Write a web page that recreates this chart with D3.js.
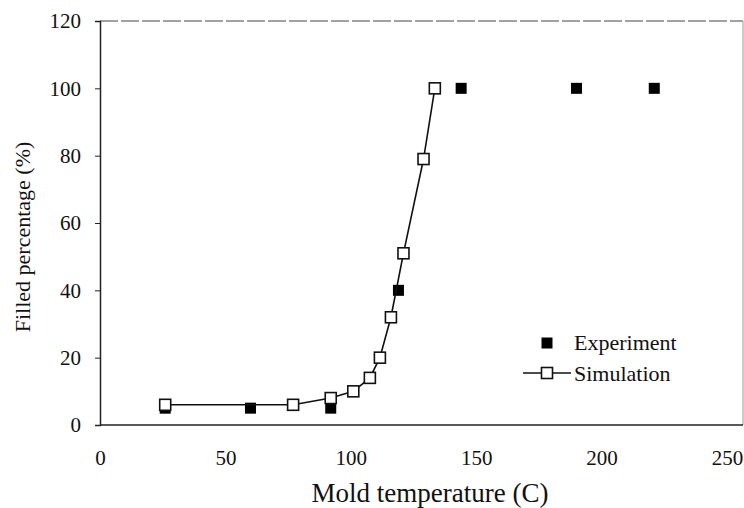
<!DOCTYPE html>
<html>
<head>
<meta charset="utf-8">
<script src="https://cdn.jsdelivr.net/npm/d3@7"></script>
<style>
  body { margin: 0; background: #fff; }
  text { font-family: "Liberation Serif", "DejaVu Serif", serif; fill: #111; }
</style>
</head>
<body>
<div id="chart"></div>
<script>
// values
var simTemp = [26, 77, 92, 101, 107.6, 111.6, 116, 121, 129, 133.5];
var simFill = [6, 6, 8, 10, 14, 20, 32, 51, 79, 100];
var expTemp = [26, 60, 92, 119, 144, 190, 221];
var expFill = [5, 5, 5, 40, 100, 100, 100];
var xTicks = [0, 50, 100, 150, 200, 250];
var yTicks = [0, 20, 40, 60, 80, 100, 120];

var width = 744, height = 508;

var svg = d3.select('#chart')
  .append('svg')
  .attr('width', width)
  .attr('height', height);

var x = d3.scaleLinear().domain([0, 250]).range([100, 727]);
var y = d3.scaleLinear().domain([0, 120]).range([425, 21]);
var frameRight = 743;

// frame top + right
svg.append('line')
  .attr('x1', x(0)).attr('x2', frameRight)
  .attr('y1', y(120)).attr('y2', y(120))
  .attr('stroke', '#444').attr('stroke-width', 1)
  .attr('stroke-dasharray', '18,3');
svg.append('line')
  .attr('x1', frameRight).attr('x2', frameRight)
  .attr('y1', y(120)).attr('y2', y(0))
  .attr('stroke', '#999').attr('stroke-width', 1);

var yAxis = svg.append('g')
  .attr('transform', 'translate(' + x(0) + ',0)')
  .call(d3.axisLeft(y).tickValues(yTicks).tickSize(5).tickPadding(14));

var xAxis = svg.append('g')
  .attr('transform', 'translate(0,' + y(0) + ')')
  .call(d3.axisBottom(x).tickValues(xTicks).tickSize(0).tickPadding(25));
// x axis line runs to the right of the frame
xAxis.select('.domain').attr('d', 'M' + x(0) + ',0H' + frameRight);

[xAxis, yAxis].forEach(function(g){
  g.select('.domain').attr('stroke', '#222').attr('stroke-width', 1.5);
  g.selectAll('.tick line').attr('stroke', '#222');
  g.selectAll('.tick text')
    .style('font-family', '"Liberation Serif", serif')
    .style('font-size', '21px')
    .attr('fill', '#111');
});

svg.append('text')
  .attr('x', 430).attr('y', 502)
  .attr('text-anchor', 'middle')
  .style('font-size', '27px')
  .text('Mold temperature (C)');

svg.append('text')
  .attr('transform', 'translate(30,237) rotate(-90)')
  .attr('text-anchor', 'middle')
  .style('font-size', '22px')
  .text('Filled percentage (%)');

// experiment markers
var exp = expTemp.map(function(t, i){ return {t: t, f: expFill[i]}; });
var sim = simTemp.map(function(t, i){ return {t: t, f: simFill[i]}; });

var ms = 11;
svg.selectAll('.exp').data(exp)
  .enter().append('rect')
  .attr('class', 'exp')
  .attr('x', function(d){ return x(d.t) - ms/2; })
  .attr('y', function(d){ return y(d.f) - ms/2; })
  .attr('width', ms).attr('height', ms)
  .attr('fill', '#000');

var line = d3.line()
  .x(function(d){ return x(d.t); })
  .y(function(d){ return y(d.f); });

svg.append('path')
  .datum(sim)
  .attr('d', line)
  .attr('fill', 'none')
  .attr('stroke', '#111')
  .attr('stroke-width', 1.6);

svg.selectAll('.sim').data(sim)
  .enter().append('rect')
  .attr('class', 'sim')
  .attr('x', function(d){ return x(d.t) - ms/2; })
  .attr('y', function(d){ return y(d.f) - ms/2; })
  .attr('width', ms).attr('height', ms)
  .attr('fill', '#fff')
  .attr('stroke', '#111')
  .attr('stroke-width', 1.6);

// legend
var lg = svg.append('g');
lg.append('rect')
  .attr('x', 547 - ms/2).attr('y', 343 - ms/2)
  .attr('width', ms).attr('height', ms)
  .attr('fill', '#000');
lg.append('text')
  .attr('x', 574).attr('y', 350)
  .style('font-size', '22px')
  .text('Experiment');
lg.append('line')
  .attr('x1', 523).attr('x2', 571)
  .attr('y1', 373).attr('y2', 373)
  .attr('stroke', '#111').attr('stroke-width', 1.6);
lg.append('rect')
  .attr('x', 547 - ms/2).attr('y', 373 - ms/2)
  .attr('width', ms).attr('height', ms)
  .attr('fill', '#fff').attr('stroke', '#111').attr('stroke-width', 1.6);
lg.append('text')
  .attr('x', 574).attr('y', 381)
  .style('font-size', '22px')
  .text('Simulation');
</script>
</body>
</html>
